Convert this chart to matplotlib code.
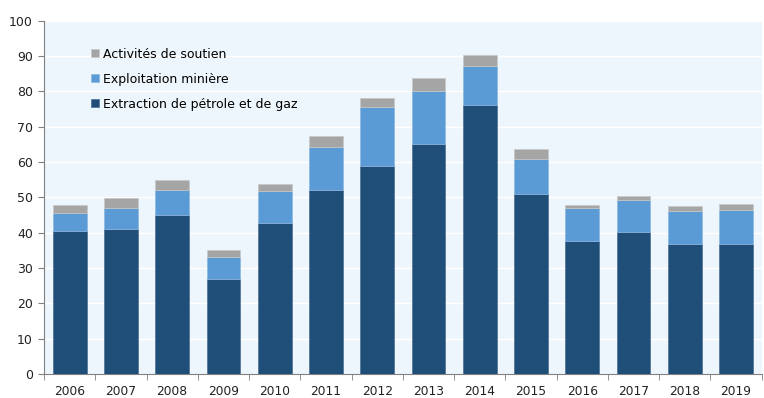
import matplotlib.pyplot as plt
import numpy as np

years = ['2006', '2007', '2008', '2009', '2010', '2011', '2012',
         '2013', '2014', '2015', '2016', '2017', '2018', '2019']

# stacked totals read per year: oil & gas, then + mining, then + support
petrole_gaz = [40.6, 41.1, 44.9, 26.8, 42.7, 52.1, 58.8,
               65.0, 76.1, 51.0, 37.6, 40.2, 36.7, 36.7]
miniere = [5.0, 5.8, 7.2, 6.3, 9.2, 12.1, 16.9,
           15.0, 11.1, 10.0, 9.5, 9.2, 9.4, 9.8]
soutien = [2.3, 2.9, 2.8, 1.9, 1.8, 3.3, 2.5,
           3.8, 3.2, 2.6, 0.8, 1.0, 1.4, 1.5]

c_dark = '#1F4E79'
c_light = '#5B9BD5'
c_gray = '#A5A5A5'

plt.rcParams['font.family'] = ['DejaVu Sans']

fig = plt.figure(figsize=(7.64, 3.98), dpi=100)
ax = fig.add_axes([0.0576, 0.060, 0.9394, 0.888])
ax.set_facecolor('#EEF6FD')

x = np.arange(len(years))
w = 0.66
b1 = np.array(petrole_gaz)
b2 = b1 + np.array(miniere)

ax.bar(x, petrole_gaz, w, color=c_dark, edgecolor='#4F7093', linewidth=0.5,
       label='Extraction de pétrole et de gaz', zorder=3)
ax.bar(x, miniere, w, bottom=b1, color=c_light, edgecolor='#8DB8E2', linewidth=0.5,
       label='Exploitation minière', zorder=3)
ax.bar(x, soutien, w, bottom=b2, color=c_gray, edgecolor='#C8C8C8', linewidth=0.5,
       label='Activités de soutien', zorder=3)

ax.set_xlim(-0.5, len(years) - 0.5)
ax.set_ylim(0, 100)
ax.set_yticks(range(0, 101, 10))
ax.yaxis.grid(True, color='white', linewidth=1.0, zorder=0)

ax.set_xticks(x)
ax.set_xticklabels(years)
ax.set_xticks(np.arange(-0.5, len(years), 1), minor=True)
ax.tick_params(axis='x', which='major', length=0, pad=8, labelsize=8.8, colors='#222222')
ax.tick_params(axis='x', which='minor', length=4, direction='out', color='#808080')
ax.tick_params(axis='y', length=4, direction='out', color='#808080', labelsize=9,
               labelcolor='#222222', pad=4)

for s in ['top', 'right']:
    ax.spines[s].set_visible(False)
ax.spines['left'].set_color('#808080')
ax.spines['bottom'].set_color('#808080')

h, l = ax.get_legend_handles_labels()
leg = ax.legend(h[::-1], l[::-1], loc='upper left', bbox_to_anchor=(0.05, 0.955),
                frameon=False, fontsize=9, handlelength=0.6, handleheight=0.6,
                handletextpad=0.35, labelspacing=0.95)

fig.savefig('out.png', dpi=100)
